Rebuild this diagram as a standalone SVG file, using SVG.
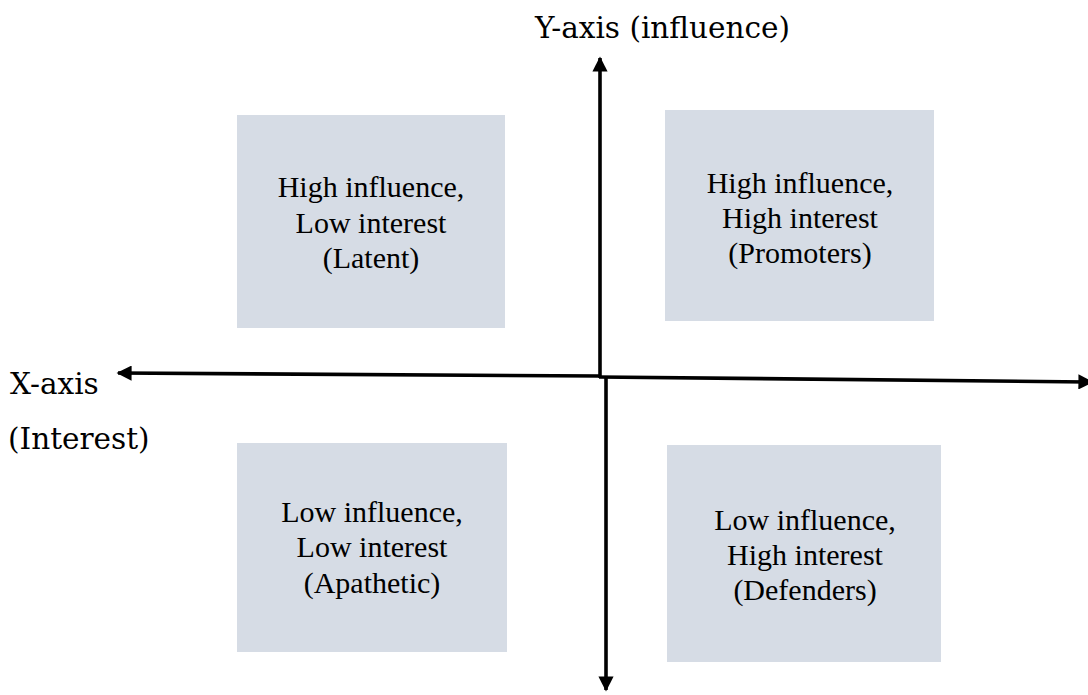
<svg xmlns="http://www.w3.org/2000/svg" width="1088" height="695" viewBox="0 0 1088 695">
  <defs>
    <marker id="arrow" viewBox="0 0 10 10" refX="9" refY="5" markerWidth="4.2" markerHeight="4.2" markerUnits="strokeWidth" orient="auto">
      <path d="M0,0 L10,5 L0,10 Z" fill="#000"/>
    </marker>
    <style>
      .quad { fill: #D6DCE5; }
      .qtext { font-family: "Liberation Serif", "Times New Roman", serif; font-size: 30px; fill: #000; text-anchor: middle; }
      .axis-label { font-family: "DejaVu Serif", "Liberation Serif", serif; font-size: 29.5px; fill: #000; }
      .axis { stroke: #000; stroke-width: 3.6; fill: none; }
    </style>
  </defs>
  <rect width="1088" height="695" fill="#fff"/>

  <!-- quadrants -->
  <g id="latent">
    <rect class="quad" x="237" y="115" width="268" height="213"/>
    <text class="qtext" x="371" y="197">High influence,</text>
    <text class="qtext" x="371" y="233">Low interest</text>
    <text class="qtext" x="371" y="268">(Latent)</text>
  </g>
  <g id="promoters">
    <rect class="quad" x="665" y="110" width="269" height="211"/>
    <text class="qtext" x="800" y="193">High influence,</text>
    <text class="qtext" x="800" y="228">High interest</text>
    <text class="qtext" x="800" y="263">(Promoters)</text>
  </g>
  <g id="apathetic">
    <rect class="quad" x="237" y="443" width="270" height="209"/>
    <text class="qtext" x="372" y="522">Low influence,</text>
    <text class="qtext" x="372" y="557">Low interest</text>
    <text class="qtext" x="372" y="593">(Apathetic)</text>
  </g>
  <g id="defenders">
    <rect class="quad" x="667" y="445" width="274" height="217"/>
    <text class="qtext" x="805" y="530">Low influence,</text>
    <text class="qtext" x="805" y="565">High interest</text>
    <text class="qtext" x="805" y="600">(Defenders)</text>
  </g>

  <!-- axes -->
  <g id="connectors">
    <line class="axis" x1="600" y1="378" x2="600" y2="58" marker-end="url(#arrow)"/>
    <line class="axis" x1="606" y1="377" x2="606" y2="690" marker-end="url(#arrow)"/>
    <line class="axis" x1="600" y1="376" x2="118" y2="373" marker-end="url(#arrow)"/>
    <line class="axis" x1="599" y1="377" x2="1092" y2="382" marker-end="url(#arrow)"/>
  </g>

  <!-- axis labels -->
  <g id="axis-labels">
    <text class="axis-label" x="535" y="38">Y-axis (influence)</text>
    <text class="axis-label" x="10" y="394">X-axis</text>
    <text class="axis-label" x="8" y="449">(Interest)</text>
  </g>
</svg>
